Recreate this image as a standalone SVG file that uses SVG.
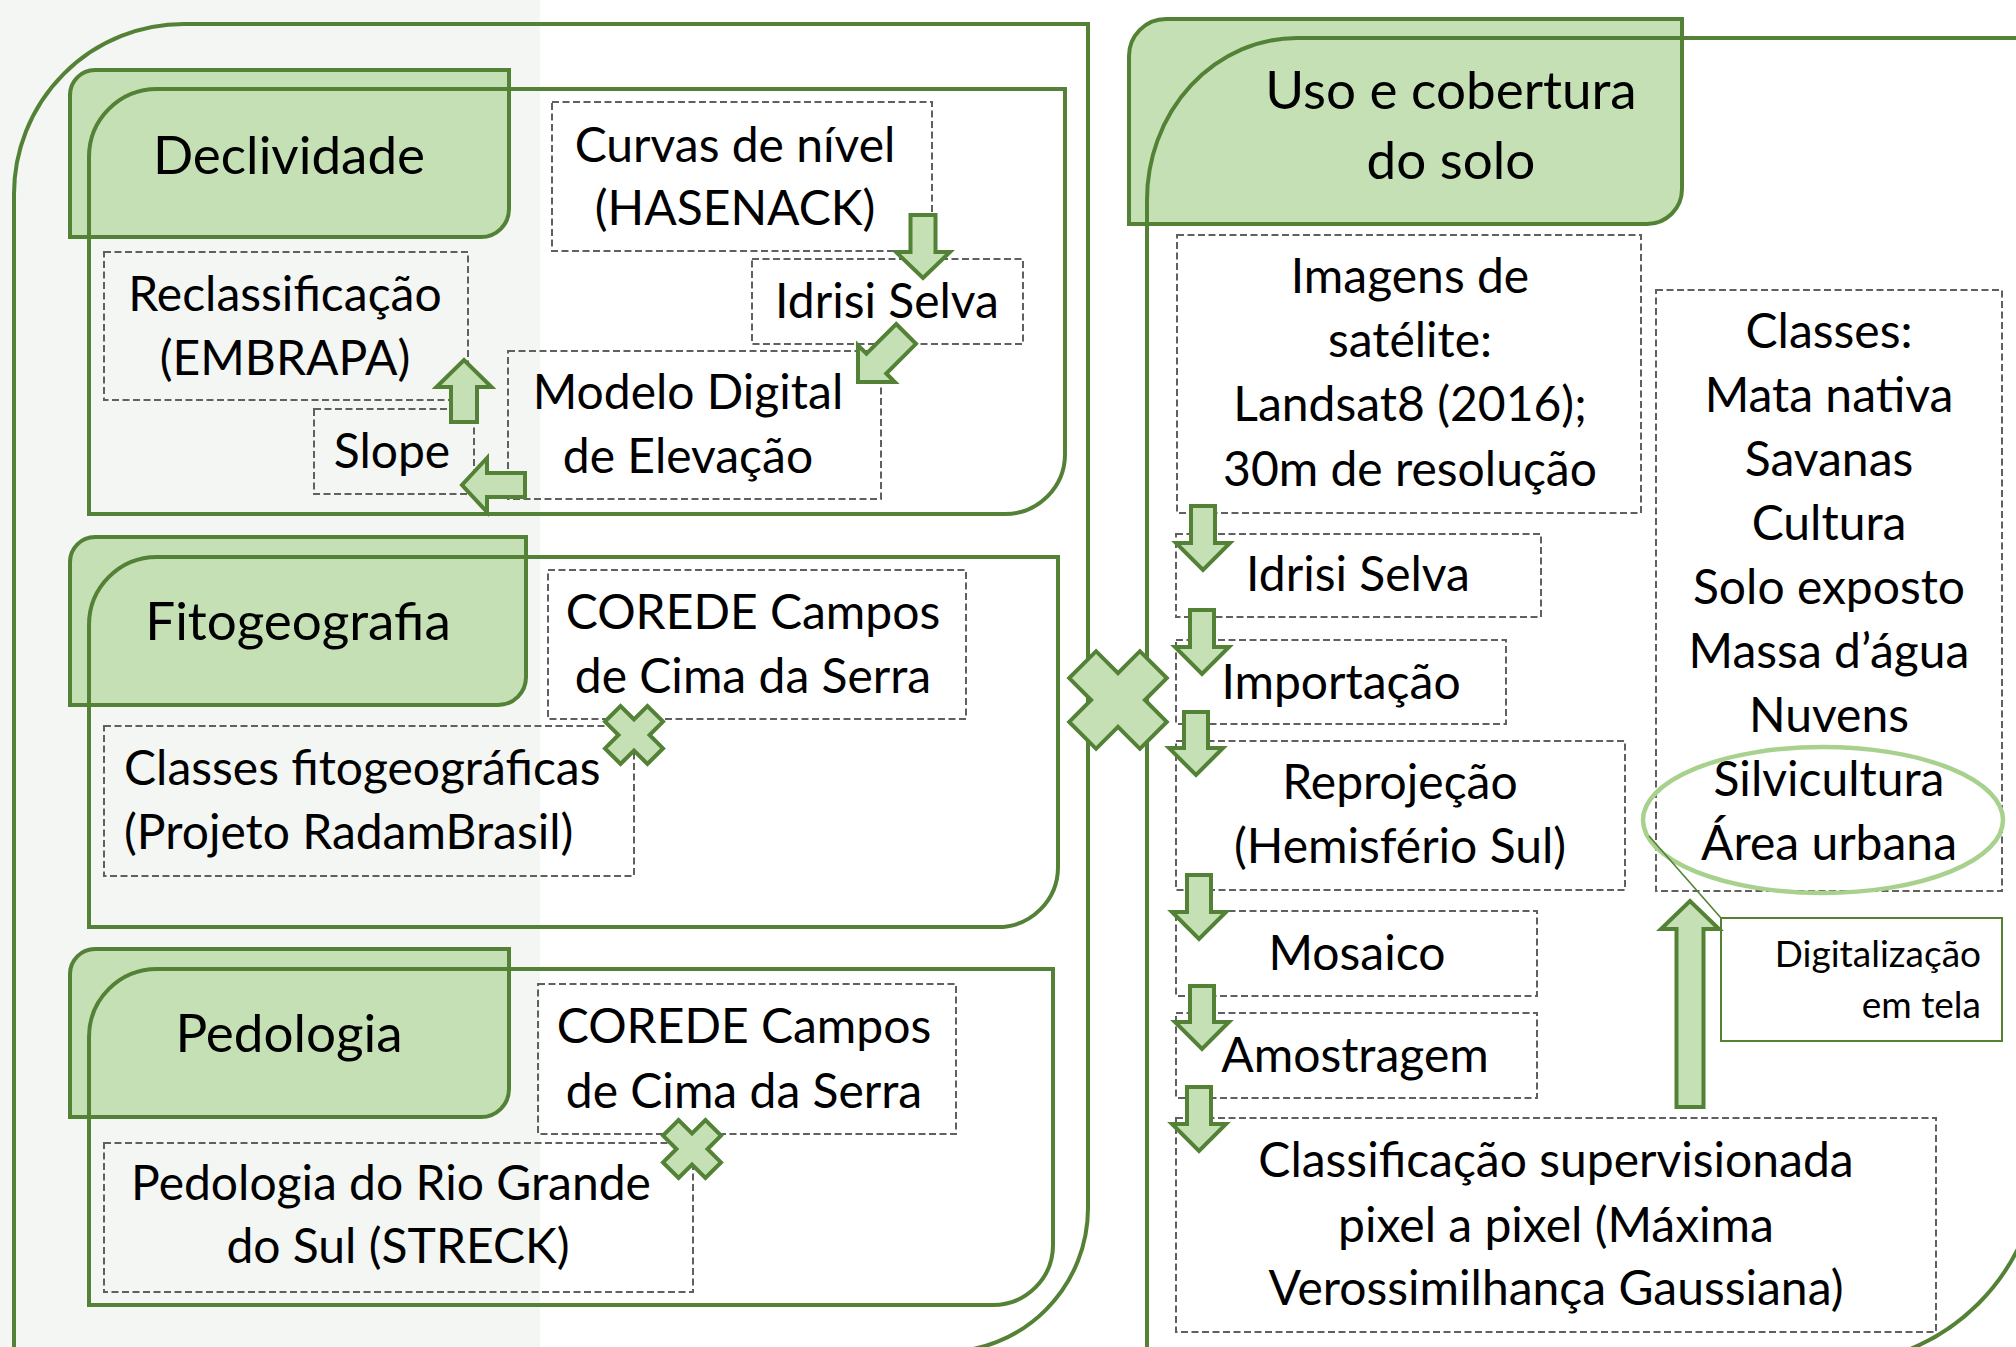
<svg xmlns="http://www.w3.org/2000/svg" width="2016" height="1347" viewBox="0 0 2016 1347">
<style>
.cont{fill:none;stroke:#538135;stroke-width:4}
.title{fill:#c5e0b4;stroke:#538135;stroke-width:4}
.box{fill:none;stroke:#606060;stroke-width:2;stroke-dasharray:7 3.5}
.arr{fill:#c5e0b4;stroke:#538135;stroke-width:4;stroke-linejoin:miter}
.x{fill:#c5e0b4;stroke:#538135;stroke-width:4}
text{font-family:Lato,"Liberation Sans",sans-serif;fill:#000000}
.t{font-size:53px;text-anchor:middle}
.b{font-size:48px;text-anchor:middle}
.bl{font-size:48px;text-anchor:start}
.s{font-size:37px;text-anchor:end}
</style>
<rect x="0" y="0" width="2016" height="1347" fill="#ffffff"/>
<rect x="0" y="0" width="540" height="1347" fill="#f3f6f2"/>

<g id="title-boxes">
<path id="declividade-title-box" class="title" d="M95 70H509V209A28 28 0 0 1 481 237H70V95A25 25 0 0 1 95 70Z"/>
<path id="fitogeografia-title-box" class="title" d="M95 537H526V677A28 28 0 0 1 498 705H70V562A25 25 0 0 1 95 537Z"/>
<path id="pedologia-title-box" class="title" d="M95 949H509V1089A28 28 0 0 1 481 1117H70V974A25 25 0 0 1 95 949Z"/>
<path id="uso-title-box" class="title" d="M1166 19H1682V189A35 35 0 0 1 1647 224H1129V56A37 37 0 0 1 1166 19Z"/>
</g>

<g id="containers">
<path id="left-outer" class="cont" d="M14 1360V194A170 170 0 0 1 184 24H1088V1208A144 144 0 0 1 944 1352"/>
<path id="right-outer" class="cont" d="M1147 1360V200A150 162 0 0 1 1297 38H2040V1155A210 210 0 0 1 1830 1365"/>
<path id="declividade-container" class="cont" d="M89 514V157A68 68 0 0 1 157 89H1065V454A60 60 0 0 1 1005 514Z"/>
<path id="fitogeografia-container" class="cont" d="M89 927V625A68 68 0 0 1 157 557H1058V867A60 60 0 0 1 998 927Z"/>
<path id="pedologia-container" class="cont" d="M89 1305V1037A68 68 0 0 1 157 969H1053V1245A60 60 0 0 1 993 1305Z"/>
</g>

<g id="node-declividade"><text class="t" x="289" y="174">Declividade</text></g>
<g id="node-fitogeografia"><text class="t" x="298" y="640">Fitogeografia</text></g>
<g id="node-pedologia"><text class="t" x="289" y="1052">Pedologia</text></g>
<g id="node-uso"><text class="t" x="1451" y="109">Uso e cobertura</text><text class="t" x="1451" y="179">do solo</text></g>

<g id="node-curvas"><rect class="box" x="552" y="102" width="380" height="149"/><text class="b" x="735" y="162">Curvas de nível</text><text class="b" x="735" y="225">(HASENACK)</text></g>
<g id="node-idrisi-left"><rect class="box" x="752" y="259" width="271" height="85"/><text class="b" x="887" y="318">Idrisi Selva</text></g>
<g id="node-reclass"><rect class="box" x="104" y="252" width="364" height="148"/><text class="b" x="285" y="311">Reclassificação</text><text class="b" x="285" y="375">(EMBRAPA)</text></g>
<g id="node-slope"><rect class="box" x="314" y="409" width="160" height="85"/><text class="b" x="392" y="468">Slope</text></g>
<g id="node-mde"><rect class="box" x="508" y="351" width="373" height="148"/><text class="b" x="688" y="409">Modelo Digital</text><text class="b" x="688" y="473">de Elevação</text></g>

<g id="node-corede-1"><rect class="box" x="548" y="570" width="418" height="149"/><text class="b" x="753" y="629">COREDE Campos</text><text class="b" x="753" y="693">de Cima da Serra</text></g>
<g id="node-classes-fito"><rect class="box" x="104" y="726" width="530" height="150"/><text class="bl" x="124" y="785">Classes fitogeográficas</text><text class="bl" x="124" y="849">(Projeto RadamBrasil)</text></g>

<g id="node-corede-2"><rect class="box" x="538" y="984" width="418" height="150"/><text class="b" x="744" y="1043">COREDE Campos</text><text class="b" x="744" y="1108">de Cima da Serra</text></g>
<g id="node-pedologia-rs"><rect class="box" x="104" y="1143" width="589" height="149"/><text class="b" x="391" y="1200">Pedologia do Rio Grande</text><text class="b" x="398" y="1263">do Sul (STRECK)</text></g>

<g id="node-imagens"><rect class="box" x="1177" y="235" width="464" height="278"/><text class="b" x="1410" y="293">Imagens de</text><text class="b" x="1410" y="357">satélite:</text><text class="b" x="1410" y="421">Landsat8 (2016);</text><text class="b" x="1410" y="486">30m de resolução</text></g>
<g id="node-classes"><rect class="box" x="1656" y="290" width="346" height="601"/>
<text class="b" x="1829" y="348">Classes:</text><text class="b" x="1829" y="412">Mata nativa</text><text class="b" x="1829" y="476">Savanas</text><text class="b" x="1829" y="540">Cultura</text><text class="b" x="1829" y="604">Solo exposto</text><text class="b" x="1829" y="668">Massa d’água</text><text class="b" x="1829" y="732">Nuvens</text><text class="b" x="1829" y="796">Silvicultura</text><text class="b" x="1829" y="860">Área urbana</text>
<ellipse cx="1823" cy="820" rx="180" ry="73" fill="none" stroke="#a9d18e" stroke-width="4.5"/></g>
<g id="node-idrisi-right"><rect class="box" x="1176" y="534" width="365" height="83"/><text class="b" x="1358" y="591">Idrisi Selva</text></g>
<g id="node-importacao"><rect class="box" x="1176" y="640" width="330" height="84"/><text class="b" x="1341" y="699">Importação</text></g>
<g id="node-reprojecao"><rect class="box" x="1176" y="741" width="449" height="149"/><text class="b" x="1400" y="799">Reprojeção</text><text class="b" x="1400" y="863">(Hemisfério Sul)</text></g>
<g id="node-mosaico"><rect class="box" x="1176" y="911" width="361" height="85"/><text class="b" x="1357" y="970">Mosaico</text></g>
<g id="node-amostragem"><rect class="box" x="1176" y="1013" width="361" height="85"/><text class="b" x="1355" y="1072">Amostragem</text></g>
<g id="node-classificacao"><rect class="box" x="1176" y="1118" width="760" height="214"/><text class="b" x="1556" y="1177">Classificação supervisionada</text><text class="b" x="1556" y="1242">pixel a pixel (Máxima</text><text class="b" x="1556" y="1305">Verossimilhança Gaussiana)</text></g>
<g id="node-digitalizacao"><line x1="1721" y1="918" x2="1649" y2="836" stroke="#538135" stroke-width="1.6"/><rect x="1721" y="918" width="281" height="123" fill="#ffffff" stroke="#538135" stroke-width="2"/><text class="s" x="1981" y="967">Digitalização</text><text class="s" x="1981" y="1018">em tela</text></g>

<g id="connectors">
<path class="arr" transform="translate(923,278)" d="M-12.5 -63H12.5V-26H27L0 0L-27 -26H-12.5Z"/>
<path class="arr" transform="translate(858,382) rotate(45)" d="M-14 -68H14V-26H26L0 0L-26 -26H-14Z"/>
<path class="arr" transform="translate(464,360) rotate(180)" d="M-13 -62H13V-27H27.5L0 0L-27.5 -27H-13Z"/>
<path class="arr" transform="translate(462,485) rotate(90)" d="M-12 -63H12V-25H27L0 0L-27 -25H-12Z"/>
<path class="arr" transform="translate(1203,570)" d="M-12 -64H12V-27H27L0 0L-27 -27H-12Z"/>
<path class="arr" transform="translate(1202,674)" d="M-12 -64H12V-27H27L0 0L-27 -27H-12Z"/>
<path class="arr" transform="translate(1196,775)" d="M-12 -63H12V-27H27L0 0L-27 -27H-12Z"/>
<path class="arr" transform="translate(1199,939)" d="M-12 -64H12V-27H27L0 0L-27 -27H-12Z"/>
<path class="arr" transform="translate(1202,1049)" d="M-12 -63H12V-27H27L0 0L-27 -27H-12Z"/>
<path class="arr" transform="translate(1199,1151)" d="M-12 -64H12V-27H27L0 0L-27 -27H-12Z"/>
<path class="arr" transform="translate(1690,901) rotate(180)" d="M-13.5 -206H13.5V-28H29L0 0L-29 -28H-13.5Z"/>
<polygon class="x" transform="translate(634,735) rotate(45)" points="11,-30 11,-11 30,-11 30,11 11,11 11,30 -11,30 -11,11 -30,11 -30,-11 -11,-11 -11,-30"/>
<polygon class="x" transform="translate(692,1149) rotate(45)" points="11,-30 11,-11 30,-11 30,11 11,11 11,30 -11,30 -11,11 -30,11 -30,-11 -11,-11 -11,-30"/>
<polygon class="x" transform="translate(1118,700) rotate(45)" points="19,-50 19,-19 50,-19 50,19 19,19 19,50 -19,50 -19,19 -50,19 -50,-19 -19,-19 -19,-50"/>
</g>
</svg>
